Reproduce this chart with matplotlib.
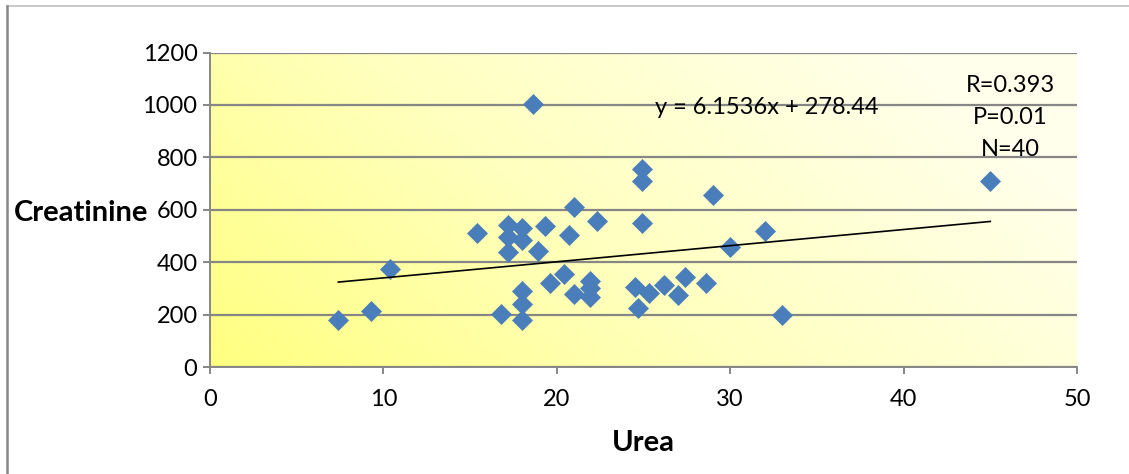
import numpy as np
import matplotlib.pyplot as plt
from matplotlib.colors import LinearSegmentedColormap

plt.rcParams['font.family'] = ['Lato', 'DejaVu Sans']

# Urea vs Creatinine
urea = [7.4, 9.3, 10.4, 15.4, 16.8, 17.2, 17.2, 17.2, 18.0, 18.0,
        18.0, 18.0, 18.0, 18.6, 18.9, 19.3, 19.6, 20.4, 20.7, 21.0,
        21.0, 21.9, 21.9, 21.9, 22.3, 24.5, 24.7, 24.9, 24.9, 24.9,
        25.3, 26.2, 27.0, 27.4, 28.6, 29.0, 30.0, 32.0, 33.0, 45.0]
creatinine = [180, 214, 373, 510, 204, 541, 497, 440, 529, 484,
              290, 181, 242, 1005, 443, 538, 321, 354, 503, 609,
              280, 329, 300, 268, 558, 306, 225, 755, 710, 548,
              284, 312, 274, 344, 322, 656, 459, 519, 198, 708]

slope, intercept = 6.1536, 278.44
stats_lines = ["R=0.393", "P=0.01", "N=40"]

W, H = 1129, 474
fig = plt.figure(figsize=(W / 100, H / 100), dpi=100)
ax = fig.add_axes([210 / W, 1 - 367 / H, 867 / W, 314.5 / H])

# yellow gradient plot area
gx, gy = np.meshgrid(np.linspace(0, 1, 200), np.linspace(0, 1, 100))
grad = np.clip(0.8 * gx + 0.35 * gy, 0, 1)
cmap = LinearSegmentedColormap.from_list('yel', ['#ffff80', '#ffffc0', '#ffffec'])
ax.imshow(grad, cmap=cmap, origin='lower', extent=[0, 1, 0, 1],
          transform=ax.transAxes, aspect='auto', zorder=0)

ax.set_xlim(0, 50)
ax.set_ylim(0, 1200)
ax.set_xticks(range(0, 51, 10))
ax.set_yticks(range(0, 1201, 200))
ax.yaxis.grid(True, color='#868686', lw=1.6, zorder=1)
ax.set_axisbelow(True)
for s in ['top', 'right']:
    ax.spines[s].set_visible(False)
for s in ['left', 'bottom']:
    ax.spines[s].set_color('#868686')
    ax.spines[s].set_linewidth(1.4)
ax.tick_params(colors='#868686', length=5, width=1.4, labelsize=17, labelcolor='black')
ax.tick_params(axis='x', pad=11)
ax.tick_params(axis='y', pad=4)

ax.plot(urea, creatinine, linestyle='none', marker='D', ms=10.5, color='#4a7ebb',
        mec='#4a7ebb', mew=0.5, zorder=3)
xs = np.array([min(urea), max(urea)])
ax.plot(xs, slope * xs + intercept, color='black', lw=1.2, zorder=4)

fig.text(655 / W, 1 - 108 / H, f"y = {slope}x + {intercept}", fontsize=17,
         va='center', ha='left')
for i, t in enumerate(stats_lines):
    fig.text(1010 / W, 1 - (85 + 32 * i) / H, t, fontsize=17,
             ha='center', va='center')

fig.text(14 / W, 1 - 213 / H, "Creatinine", fontsize=21, fontweight='bold',
         ha='left', va='center')
fig.text(643 / W, 1 - 443 / H, "Urea", fontsize=21, fontweight='bold',
         ha='center', va='center')

# outer chart frame
fig.add_artist(plt.Line2D([7 / W, 1], [1 - 6 / H] * 2, color='#c0c0c0', lw=1.2,
                          transform=fig.transFigure))
fig.add_artist(plt.Line2D([7 / W] * 2, [0, 1 - 6 / H], color='#888888', lw=1.8,
                          transform=fig.transFigure))

fig.savefig("out.png", dpi=100)
